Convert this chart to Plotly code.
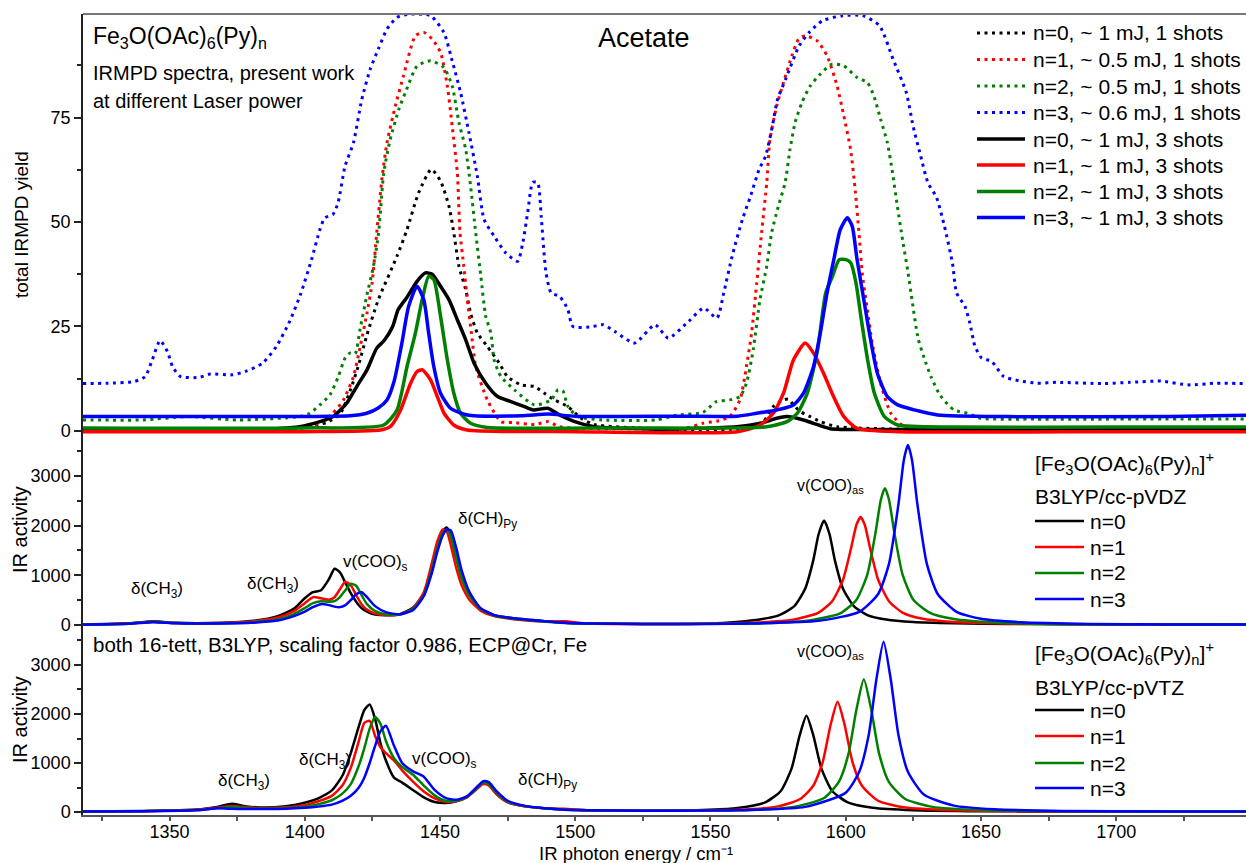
import plotly.graph_objects as go

FONT = "Liberation Sans, Arial, sans-serif"

# ---------------- top panel: experimental IRMPD yields ----------------
exp0_1shot_x = [1318, 1380, 1400, 1408, 1413, 1417, 1420, 1423, 1427.2, 1434.1, 1437.8, 1442.1, 1446.8, 1450.2,
                1453.3, 1455.1, 1457, 1459.5, 1461.3, 1463.8, 1467.5, 1471.9, 1474.9, 1479.9, 1484.9, 1488.6,
                1492.3, 1497.3, 1502.2, 1507, 1530, 1560, 1569.5, 1573.2, 1577, 1578.8, 1580.7, 1583.2, 1586.9,
                1590.6, 1596.8, 1620, 1680, 1748]
exp0_1shot_y = [0.3, 0.3, 0.8, 2.0, 4.0, 10.0, 16.0, 23.0, 31.4, 41.8, 48.2, 57.0, 62.6, 59.8,
                53.8, 47.4, 39.4, 33.8, 28.2, 23.4, 20.2, 16.2, 13.0, 11.0, 10.6, 9.0,
                7.4, 5.8, 3.0, 1.5, 0.5, 0.5, 2.2, 5.8, 7.4, 7.6, 6.2, 4.6, 3.4,
                2.2, 1.0, 0.4, 0.3, 0.3]

exp1_1shot_x = [1318, 1350, 1380, 1400, 1406, 1410.4, 1414.3, 1418, 1420.5, 1423, 1424.9, 1426.6, 1428.5,
                1430.4, 1433.5, 1436.5, 1440.9, 1444, 1447.1, 1450.2, 1452.7, 1454.5, 1456.4, 1457.4, 1458.8,
                1460.1, 1461.6, 1463.2, 1467.5, 1472.5, 1477, 1485, 1490, 1494, 1500, 1520, 1540, 1547.2,
                1553, 1557.1, 1560.9, 1563.3, 1565.2, 1567.1, 1568.9, 1570.8, 1572, 1574.5, 1577, 1580.1,
                1582.6, 1585, 1589.4, 1593.1, 1596.8, 1599.3, 1601.8, 1603.6, 1604.9, 1606.1, 1608, 1609.8,
                1612.9, 1616.7, 1621.6, 1630, 1660, 1700, 1748]
exp1_1shot_y = [0.4, 0.4, 0.5, 0.8, 2.0, 4.2, 7.4, 13.0, 20.2, 28.2, 35.4, 47.4, 60.2,
                69.0, 77.8, 85.0, 94.6, 95.4, 93.8, 90.6, 82.6, 73.0, 61.8, 47.4, 39.4,
                31.4, 23.4, 15.4, 7.4, 2.2, 2.0, 1.5, 2.2, 1.0, 0.6, 0.5, 0.5, 1.8,
                2.4, 3.4, 7.4, 15.4, 23.4, 35.4, 47.4, 59.4, 69.8, 77.8, 83.4, 89.8,
                93.8, 94.6, 93.4, 89.8, 82.6, 75.4, 67.4, 57.0, 47.4, 37.8, 29.0, 21.0,
                11.4, 4.2, 1.0, 0.5, 0.5, 0.5, 0.5]

exp2_1shot_x = [1318, 1340, 1357, 1375, 1398, 1401.9, 1405.6, 1409.3, 1412.4, 1414.9, 1416.7, 1418.6,
                1420.4, 1423, 1425.4, 1427.3, 1429.2, 1431.6, 1434.8, 1437.2, 1441.5, 1446.5, 1451.4,
                1454.5, 1457, 1459.5, 1461.3, 1463.2, 1465.1, 1466.9, 1468.8, 1470, 1472.5, 1477.5,
                1484.9, 1491.1, 1493.6, 1495.4, 1497.3, 1501, 1510, 1530, 1538, 1547.2, 1552.2, 1557.1,
                1560.9, 1563.3, 1565.8, 1568.3, 1570.8, 1572.6, 1575.1, 1577.6, 1579.4, 1581.3, 1583.8,
                1586.9, 1590.6, 1594.9, 1599.3, 1604.2, 1608, 1610.4, 1612.9, 1615.4, 1617.3, 1619.1,
                1621, 1622.9, 1624.7, 1626.8, 1629.5, 1631.5, 1635, 1640, 1645, 1650, 1670, 1700, 1748]
exp2_1shot_y = [2.6, 2.6, 3.4, 2.6, 3.4, 4.2, 6.2, 8.6, 13.0, 17.4, 18.6, 18.4,
                24.2, 32.6, 39.4, 47.4, 61.8, 69.8, 77.0, 81.0, 87.3, 88.6, 87.0,
                82.6, 73.8, 67.4, 58.6, 47.4, 37.0, 27.4, 23.4, 17.0, 13.0, 9.8,
                6.2, 7.4, 9.8, 9.6, 5.8, 3.4, 2.6, 2.6, 3.8, 4.4, 7.0, 7.4,
                8.2, 11.4, 19.4, 31.4, 39.4, 47.4, 53.8, 59.4, 67.4, 73.8, 78.6,
                82.6, 85.4, 87.8, 87.4, 84.6, 83.4, 80.2, 74.6, 69.0, 61.8, 53.8,
                45.8, 38.5, 30.5, 22.0, 16.5, 13.0, 8.4, 5.0, 4.2, 3.0, 2.8, 2.8, 2.8]

exp3_1shot_x = [1318, 1327, 1337, 1341, 1343.6, 1346.5, 1349.2, 1351.1, 1354, 1361, 1365, 1373, 1378,
                1384.4, 1389.5, 1394.4, 1398.5, 1402.5, 1405.6, 1407.4, 1410.4, 1412.3, 1414.9, 1418,
                1421.1, 1424.2, 1427.2, 1430.4, 1434.1, 1439, 1446.5, 1451.4, 1454.5, 1457.6, 1460.7,
                1463.8, 1466.3, 1470, 1474.3, 1478.7, 1480.6, 1482.4, 1484.3, 1486.1, 1487.4, 1489.2,
                1491.1, 1494.2, 1497.3, 1499.1, 1506, 1510.3, 1514.6, 1522, 1529.5, 1534.4, 1541.9,
                1547.5, 1552.4, 1554.9, 1558, 1561.8, 1564.8, 1568, 1570.4, 1572.9, 1574.8, 1577.8,
                1582.8, 1586.5, 1591.4, 1598.9, 1606.3, 1612.5, 1617.5, 1622.4, 1624.9, 1627.4, 1630.4,
                1633.5, 1636.5, 1639.5, 1641, 1644.1, 1645.9, 1647.8, 1650.3, 1654, 1658.4, 1664,
                1670.8, 1678, 1695.5, 1705, 1716.6, 1726.5, 1737, 1748]
exp3_1shot_y = [11.3, 11.4, 11.8, 13.0, 17.0, 21.6, 19.0, 15.4, 13.0, 12.8, 13.6, 13.4, 14.2,
                16.2, 20.2, 26.2, 32.8, 41.0, 48.2, 51.0, 51.8, 54.6, 63.4, 69.0,
                79.4, 86.6, 91.4, 96.2, 99.0, 99.8, 99.4, 95.4, 88.6, 81.0, 71.4,
                61.0, 50.6, 46.6, 42.6, 40.6, 45.0, 52.2, 59.5, 59.4, 51.4, 37.8,
                33.0, 32.2, 29.0, 25.0, 24.9, 25.4, 23.8, 21.0, 25.4, 22.2, 26.2,
                29.4, 27.0, 33.0, 41.8, 50.6, 56.2, 62.6, 65.8, 73.0, 79.4, 84.2,
                92.2, 95.4, 98.2, 99.4, 99.4, 97.0, 89.0, 81.0, 73.0, 66.6, 59.4,
                56.0, 49.0, 40.0, 33.0, 29.8, 25.8, 20.2, 17.4, 16.6, 13.0, 12.0,
                11.4, 11.6, 11.3, 11.6, 11.9, 11.0, 11.4, 11.3]

exp0_3shot_x = [1318, 1380, 1398, 1405.6, 1410.5, 1415.5, 1419.2, 1423, 1426.6, 1429.2, 1432.5, 1434.5,
                1437.8, 1441.5, 1444.6, 1447.1, 1450.2, 1453.3, 1456.4, 1459.5, 1462.6, 1466.9, 1471.3,
                1476.2, 1481.2, 1484.5, 1489.8, 1494.2, 1499.8, 1507, 1530, 1559.7, 1568.4, 1574.5,
                1578.3, 1584.4, 1588.1, 1594.3, 1610, 1680, 1748]
exp0_3shot_y = [0.3, 0.3, 1.0, 2.2, 3.4, 6.6, 10.6, 14.6, 19.8, 21.5, 25.0, 29.0,
                32.0, 35.8, 37.8, 37.5, 34.6, 31.4, 26.6, 21.8, 16.2, 11.4, 8.2,
                7.0, 5.8, 5.0, 5.4, 3.8, 2.2, 1.0, 0.4, 1.0, 1.8, 3.0,
                3.4, 2.6, 1.8, 0.5, 0.3, 0.3, 0.3]

exp1_3shot_x = [1318, 1400, 1428, 1431.6, 1435.3, 1439, 1441.5, 1443.5, 1446.5, 1449, 1451.5, 1455.1,
                1460, 1500, 1560, 1568.4, 1573.2, 1577, 1580.7, 1585, 1588.1, 1591.8, 1595.5, 1599.3,
                1604.2, 1620, 1700, 1748]
exp1_3shot_y = [-0.2, -0.2, 0.2, 1.0, 4.8, 11.2, 14.2, 14.6, 12.2, 8.2, 4.2, 1.4,
                0.2, -0.2, -0.2, 1.4, 4.2, 9.0, 17.0, 21.0, 18.6, 13.8, 8.2, 3.4,
                0.6, -0.2, -0.2, -0.2]

exp2_3shot_x = [1318, 1400, 1429.2, 1434.1, 1437.8, 1440.9, 1443.4, 1445.8, 1447.7, 1450.2, 1452.7,
                1455.1, 1457.6, 1461.3, 1467.5, 1520, 1570, 1578.3, 1582.1, 1585.8, 1589.6, 1592.6,
                1595.1, 1597.6, 1600.1, 1601.9, 1603.8, 1605.6, 1608.1, 1610.6, 1614.3, 1619.2, 1640,
                1700, 1748]
exp2_3shot_y = [0.7, 0.7, 1.4, 5.0, 15.4, 23.4, 31.4, 37.0, 36.2, 27.4, 17.0,
                9.0, 4.2, 1.8, 0.8, 0.7, 0.9, 2.2, 4.2, 9.0, 19.4, 33.0,
                37.0, 41.0, 41.0, 40.2, 35.4, 27.4, 17.0, 9.0, 3.4, 1.4, 0.9,
                0.9, 0.9]

exp3_3shot_x = [1318, 1380, 1416.7, 1422.9, 1427, 1430.4, 1433, 1435.9, 1438.4, 1441.5, 1444, 1445.8,
                1447.7, 1450.2, 1453.9, 1460.1, 1480, 1490, 1500, 1540, 1560, 1567.1, 1574.5, 1580.7,
                1584.4, 1588.1, 1590.6, 1593.1, 1595.6, 1598, 1600.6, 1602.4, 1604.2, 1606.7, 1609.2,
                1611.7, 1615.4, 1619.2, 1625.4, 1634, 1660, 1720, 1748]
exp3_3shot_y = [3.4, 3.4, 3.6, 4.2, 5.4, 7.4, 11.8, 21.0, 29.8, 34.6, 31.4, 23.4,
                15.4, 9.0, 5.4, 3.8, 3.6, 4.0, 3.5, 3.5, 3.5, 4.2, 5.0, 6.2,
                9.0, 15.4, 23.4, 33.0, 41.0, 48.2, 51.0, 49.0, 41.0, 31.4, 21.8,
                13.8, 8.2, 6.2, 5.0, 3.8, 3.4, 3.4, 3.7]

exp_names = ["n=0, ~ 1 mJ, 1 shots", "n=1, ~ 0.5 mJ, 1 shots", "n=2, ~ 0.5 mJ, 1 shots",
             "n=3, ~ 0.6 mJ, 1 shots", "n=0, ~ 1 mJ, 3 shots", "n=1, ~ 1 mJ, 3 shots",
             "n=2, ~ 1 mJ, 3 shots", "n=3, ~ 1 mJ, 3 shots"]

# ---------------- middle panel: B3LYP/cc-pVDZ ----------------
vdz_lo_x = [1318, 1335, 1344, 1352, 1365, 1380, 1390, 1396, 1400, 1403, 1406, 1409, 1411, 1413, 1415,
            1417, 1419, 1421, 1423, 1426, 1430, 1435, 1440, 1444, 1447, 1449, 1451, 1452.5, 1454, 1456,
            1458, 1461, 1465, 1470, 1478, 1488, 1496, 1505, 1525, 1550]
vdz_n0_lo = [10, 35, 75, 45, 40, 80, 180, 330, 540, 660, 700, 930, 1130, 1060, 850,
             640, 470, 340, 270, 210, 195, 215, 350, 640, 1150, 1560, 1880, 1960, 1800, 1350,
             950, 600, 330, 200, 130, 80, 45, 30, 20, 30]
vdz_n1_lo = [8, 30, 65, 40, 35, 70, 150, 280, 440, 560, 540, 510, 560, 720, 870,
             800, 600, 420, 310, 230, 200, 210, 330, 660, 1250, 1680, 1920, 1880, 1600, 1150,
             800, 500, 290, 180, 110, 70, 75, 30, 20, 25]
vdz_n2_lo = [8, 28, 65, 40, 30, 55, 110, 220, 340, 440, 480, 470, 480, 560, 700,
             830, 790, 600, 420, 280, 215, 210, 320, 600, 1120, 1550, 1850, 1920, 1780, 1350,
             950, 580, 320, 190, 120, 70, 40, 30, 20, 25]
vdz_n3_lo = [8, 25, 55, 35, 30, 45, 90, 180, 270, 360, 420, 400, 370, 360, 400,
             500, 620, 660, 560, 380, 260, 215, 300, 580, 1050, 1470, 1800, 1920, 1900, 1550,
             1100, 650, 340, 200, 130, 80, 45, 30, 20, 20]

vdz_n0_hi_x = [1565, 1575, 1581, 1585, 1588, 1590, 1592, 1594, 1596, 1599, 1603, 1608, 1615, 1625, 1640, 1660, 1700, 1748]
vdz_n0_hi_y = [90, 190, 380, 730, 1300, 1830, 2100, 1830, 1300, 730, 380, 200, 110, 60, 35, 20, 10, 8]
vdz_n1_hi_x = [1565, 1580, 1590, 1595, 1599, 1602, 1604, 1605.5, 1607, 1609, 1612, 1616, 1621, 1628, 1640, 1660, 1700, 1748]
vdz_n1_hi_y = [45, 100, 250, 480, 910, 1550, 2020, 2170, 2020, 1550, 910, 480, 250, 130, 60, 30, 12, 8]
vdz_n2_hi_x = [1565, 1585, 1598, 1604, 1608, 1611, 1613, 1614.5, 1616, 1618, 1621, 1625, 1631, 1640, 1655, 1680, 1720, 1748]
vdz_n2_hi_y = [30, 80, 235, 510, 1020, 1850, 2520, 2750, 2520, 1850, 1020, 510, 250, 120, 50, 18, 10, 8]
vdz_n3_hi_x = [1565, 1590, 1605, 1612, 1616, 1619.5, 1621.5, 1623, 1624.5, 1626.5, 1630, 1634, 1641, 1650, 1665, 1690, 1720, 1748]
vdz_n3_hi_y = [30, 85, 265, 625, 1230, 2430, 3320, 3620, 3320, 2430, 1230, 625, 265, 125, 55, 22, 12, 10]

# ---------------- bottom panel: B3LYP/cc-pVTZ ----------------
vtz_lo_x = [1318, 1340, 1360, 1368, 1373, 1378, 1385, 1393, 1400, 1405, 1410, 1414, 1417, 1420, 1422,
            1424, 1426, 1428, 1430, 1433, 1436, 1440, 1444, 1448, 1452, 1456, 1460, 1463, 1466, 1468,
            1471, 1475, 1482, 1490, 1496, 1505, 1525, 1550]
vtz_n0_lo = [10, 20, 50, 110, 170, 120, 90, 120, 190, 280, 440, 750, 1200, 1750, 2080,
             2195, 1900, 1400, 1050, 700, 600, 450, 300, 205, 185, 220, 320, 470, 620, 560,
             360, 200, 110, 70, 50, 35, 25, 45]
vtz_n1_lo = [8, 18, 45, 90, 125, 100, 80, 95, 140, 220, 330, 550, 900, 1450, 1820,
             1860, 1550, 1320, 1200, 1050, 850, 620, 420, 280, 210, 220, 300, 440, 570, 540,
             360, 200, 110, 70, 65, 35, 25, 40]
vtz_n2_lo = [8, 18, 40, 80, 100, 85, 70, 80, 110, 160, 240, 380, 570, 950, 1300,
             1700, 1940, 1800, 1450, 1100, 920, 760, 540, 340, 230, 230, 310, 450, 600, 570,
             390, 210, 115, 70, 45, 35, 25, 35]
vtz_n3_lo = [8, 15, 35, 75, 65, 60, 60, 65, 85, 110, 150, 230, 330, 500, 700,
             1000, 1350, 1650, 1760, 1350, 1000, 830, 720, 450, 290, 250, 320, 470, 630, 610,
             420, 230, 120, 70, 45, 35, 25, 30]

vtz_n0_hi_x = [1560, 1570, 1576, 1580, 1583, 1585.5, 1588, 1591, 1595, 1601, 1610, 1625, 1645, 1680, 1720, 1748]
vtz_n0_hi_y = [80, 190, 430, 890, 1570, 1965, 1570, 890, 430, 190, 85, 35, 18, 10, 8, 8]
vtz_n1_hi_x = [1560, 1575, 1583, 1588, 1591.5, 1594.5, 1597, 1599.5, 1602.5, 1606, 1612, 1622, 1640, 1670, 1710, 1748]
vtz_n1_hi_y = [45, 115, 260, 535, 1020, 1800, 2250, 1800, 1020, 535, 230, 90, 35, 15, 10, 8]
vtz_n2_hi_x = [1560, 1580, 1592, 1597.5, 1601, 1604, 1606.7, 1609.4, 1612.4, 1616, 1622, 1632, 1650, 1680, 1720, 1748]
vtz_n2_hi_y = [35, 95, 285, 620, 1180, 2100, 2710, 2100, 1180, 610, 265, 105, 40, 16, 10, 8]
vtz_n3_hi_x = [1560, 1585, 1600, 1605, 1608.5, 1611.3, 1614, 1616.7, 1619.5, 1623, 1629, 1640, 1655, 1680, 1720, 1748]
vtz_n3_hi_y = [35, 105, 395, 820, 1570, 2690, 3475, 2690, 1570, 820, 350, 130, 55, 22, 12, 10]

calc_names = ["n=0", "n=1", "n=2", "n=3"]
colors = ["#000000", "#ff0000", "#008000", "#0000ff"]
DOT = "3px,4.5px"

# ---------------- figure ----------------
W, H = 1246, 863
ML, MR, MT, MB = 83, 0, 14, 48
PW, PH = W - ML - MR, H - MT - MB


def px_x(px):
    return (px - ML) / PW


def px_y(py):
    return (H - MB - py) / PH


fig = go.Figure()


def add(x, y, name, color, dash, width, xa, ya):
    fig.add_trace(go.Scatter(
        x=x, y=y, name=name, mode="lines", showlegend=False,
        line=dict(color=color, dash=dash, width=width, shape="spline", smoothing=0.6),
        xaxis=xa, yaxis=ya, hoverinfo="skip"))


one_shot = [(exp0_1shot_x, exp0_1shot_y), (exp1_1shot_x, exp1_1shot_y),
            (exp2_1shot_x, exp2_1shot_y), (exp3_1shot_x, exp3_1shot_y)]
three_shot = [(exp0_3shot_x, exp0_3shot_y), (exp1_3shot_x, exp1_3shot_y),
              (exp2_3shot_x, exp2_3shot_y), (exp3_3shot_x, exp3_3shot_y)]
for i, (xx, yy) in enumerate(one_shot):
    add(xx, yy, exp_names[i], colors[i], DOT, 3, "x", "y")
for i, (xx, yy) in enumerate(three_shot):
    add(xx, yy, exp_names[4 + i], colors[i], "solid", 3.5, "x", "y")

vdz = [(vdz_n0_lo, vdz_n0_hi_x, vdz_n0_hi_y), (vdz_n1_lo, vdz_n1_hi_x, vdz_n1_hi_y),
       (vdz_n2_lo, vdz_n2_hi_x, vdz_n2_hi_y), (vdz_n3_lo, vdz_n3_hi_x, vdz_n3_hi_y)]
for i, (lo, hx, hy) in enumerate(vdz):
    add(vdz_lo_x + hx, lo + hy, calc_names[i], colors[i], "solid", 2.5, "x2", "y2")

vtz = [(vtz_n0_lo, vtz_n0_hi_x, vtz_n0_hi_y), (vtz_n1_lo, vtz_n1_hi_x, vtz_n1_hi_y),
       (vtz_n2_lo, vtz_n2_hi_x, vtz_n2_hi_y), (vtz_n3_lo, vtz_n3_hi_x, vtz_n3_hi_y)]
for i, (lo, hx, hy) in enumerate(vtz):
    add(vtz_lo_x + hx, lo + hy, calc_names[i], colors[i], "solid", 2.5, "x3", "y3")

axcol = "#222222"
hidden_x = dict(domain=[0, 1], matches="x3", showticklabels=False, showline=False,
                ticks="", showgrid=False, zeroline=False)
yax = dict(showline=True, linecolor=axcol, linewidth=1.5, ticks="outside", ticklen=7,
           tickwidth=1.5, tickcolor=axcol, showgrid=False, zeroline=False,
           tickfont=dict(size=18, color="black"))

shapes = [dict(type="line", xref="paper", yref="paper", x0=0, x1=1, y0=1, y1=1,
               line=dict(color="#777777", width=2))]
ann = []


def note(text, x, y, xref, yref, size, xanchor="center", angle=0):
    ann.append(dict(text=text, x=x, y=y, xref=xref, yref=yref, showarrow=False,
                    font=dict(size=size, family=FONT, color="black"),
                    xanchor=xanchor, yanchor="middle", textangle=angle))


def legend_row(label, color, dash, width, x0, x1, xt, py, size):
    shapes.append(dict(type="line", xref="paper", yref="paper", x0=px_x(x0), x1=px_x(x1),
                       y0=px_y(py), y1=px_y(py), line=dict(color=color, dash=dash, width=width)))
    note(label, px_x(xt), px_y(py), "paper", "paper", size, "left")


# top legend (experimental)
top_rows = [33, 59.5, 86, 112.5, 139, 165, 191.5, 217.5]
for i in range(8):
    legend_row(exp_names[i], colors[i % 4], DOT if i < 4 else "solid", 3 if i < 4 else 3.5,
               977, 1025, 1031, top_rows[i], 21)

# calculated-spectra legends
header1 = "[Fe<sub>3</sub>O(OAc)<sub>6</sub>(Py)<sub>n</sub>]<sup>+</sup>"
note(header1, px_x(1033), px_y(463), "paper", "paper", 21, "left")
note("B3LYP/cc-pVDZ", px_x(1033), px_y(497), "paper", "paper", 21, "left")
for i, py in enumerate([521, 547, 573, 599]):
    legend_row(calc_names[i], colors[i], "solid", 2.5, 1035, 1084, 1088, py, 21)

note(header1, px_x(1033), px_y(653), "paper", "paper", 21, "left")
note("B3LYP/cc-pVTZ", px_x(1033), px_y(687), "paper", "paper", 21, "left")
for i, py in enumerate([710, 736, 763, 788]):
    legend_row(calc_names[i], colors[i], "solid", 2.5, 1035, 1084, 1088, py, 21)

# top panel texts
note("Fe<sub>3</sub>O(OAc)<sub>6</sub>(Py)<sub>n</sub>", px_x(91), px_y(38), "paper", "paper", 23, "left")
note("IRMPD spectra, present work", px_x(91), px_y(73), "paper", "paper", 20, "left")
note("at different Laser power", px_x(91), px_y(101), "paper", "paper", 20, "left")
note("Acetate", px_x(644), px_y(38), "paper", "paper", 27)

# middle panel labels
note("δ(CH<sub>3</sub>)", 1345.4, 704, "x2", "y2", 17)
note("δ(CH<sub>3</sub>)", 1388.1, 805, "x2", "y2", 17)
note("v(COO)<sub>s</sub>", 1426, 1248, "x2", "y2", 17)
note("δ(CH)<sub>Py</sub>", 1467.7, 2113, "x2", "y2", 17)
note("v(COO)<sub>as</sub>", 1594.4, 2777, "x2", "y2", 16)

# bottom panel labels
note("both 16-tett, B3LYP, scaling factor 0.986, ECP@Cr, Fe", px_x(91), 3408, "paper", "y3", 20.5, "left")
note("δ(CH<sub>3</sub>)", 1377.7, 612, "x3", "y3", 17)
note("δ(CH<sub>3</sub>)", 1407.4, 1041, "x3", "y3", 17)
note("v(COO)<sub>s</sub>", 1451.7, 1061, "x3", "y3", 17)
note("δ(CH)<sub>Py</sub>", 1489.6, 633, "x3", "y3", 17)
note("v(COO)<sub>as</sub>", 1594.4, 3265, "x3", "y3", 16)

# axis titles
note("total IRMPD yield", px_x(22), px_y(225), "paper", "paper", 19, angle=-90)
note("IR activity", px_x(20), px_y(530), "paper", "paper", 20, angle=-90)
note("IR activity", px_x(20), px_y(720), "paper", "paper", 20, angle=-90)
note("IR photon energy / cm\u207b\u00b9", px_x(636), px_y(853.5), "paper", "paper", 18.5)

fig.update_layout(
    width=W, height=H,
    margin=dict(l=ML, r=MR, t=MT, b=MB),
    paper_bgcolor="white", plot_bgcolor="white",
    font=dict(family=FONT, size=18, color="black"),
    showlegend=False,
    xaxis=dict(anchor="y", **hidden_x),
    xaxis2=dict(anchor="y2", **hidden_x),
    xaxis3=dict(domain=[0, 1], anchor="y3", range=[1318, 1748], showline=True, linecolor="#555555",
                linewidth=1.5, ticks="outside", tick0=1350, dtick=50, ticklen=4, tickwidth=1.5,
                tickcolor="#555555", ticklabelstandoff=-4,
                minor=dict(tick0=1325, dtick=25, ticks="outside", ticklen=4,
                           tickcolor="#555555", showgrid=False),
                showgrid=False, zeroline=False, tickfont=dict(size=18, color="black")),
    yaxis=dict(domain=[px_y(440), 1], range=[-2.2, 99.8], tick0=0, dtick=25,
               minor=dict(tick0=0, dtick=12.5, ticks="outside", ticklen=4, tickcolor=axcol), **yax),
    yaxis2=dict(domain=[px_y(632), px_y(440)], range=[-140, 3720], tick0=0, dtick=1000,
                minor=dict(tick0=0, dtick=500, ticks="outside", ticklen=4, tickcolor=axcol), **yax),
    yaxis3=dict(domain=[0, px_y(632)], range=[-61, 3673], tick0=0, dtick=1000,
                minor=dict(tick0=0, dtick=500, ticks="outside", ticklen=4, tickcolor=axcol), **yax),
    shapes=shapes,
    annotations=ann,
)

fig.write_html("out.html")
